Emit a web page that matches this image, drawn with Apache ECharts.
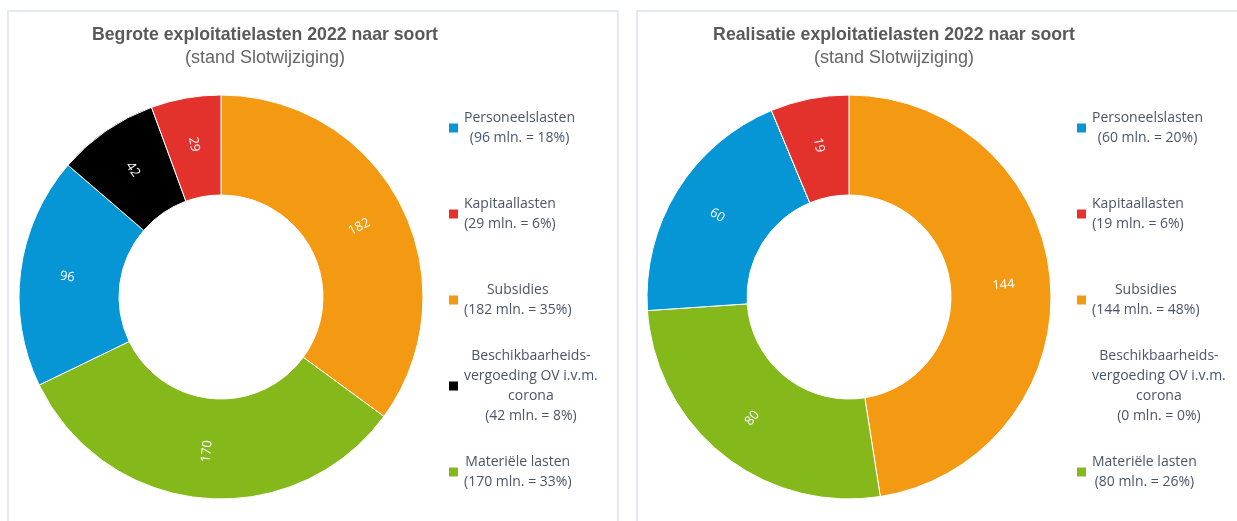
<!DOCTYPE html>
<html>
<head>
<meta charset="utf-8">
<title>Exploitatielasten 2022 naar soort</title>
<script src="https://cdn.jsdelivr.net/npm/echarts@6/dist/echarts.min.js"></script>
<style>
  html, body { margin: 0; padding: 0; background: #fff; }
  #ec { width: 1237px; height: 521px; }
</style>
</head>
<body>
<div id="ec"></div>
<script>
// volgorde van de ringen (met de klok mee vanaf boven)
var categories = ['Subsidies', 'Materiële lasten', 'Personeelslasten', 'Beschikbaarheidsvergoeding OV i.v.m. corona', 'Kapitaallasten'];
// begroot (stand Slotwijziging), mln.
var begroot = [182, 170, 96, 42, 29];
// realisatie, mln.
var realisatie = [144, 80, 60, 0, 19];

// volgorde in de legenda
var legendOrder = ['Personeelslasten', 'Kapitaallasten', 'Subsidies', 'Beschikbaarheidsvergoeding OV i.v.m. corona', 'Materiële lasten'];
// hoe de namen in de legenda worden afgebroken
var legendLines = {
  'Beschikbaarheidsvergoeding OV i.v.m. corona': ['Beschikbaarheids-', 'vergoeding OV i.v.m.', 'corona']
};

var titles = ['Begrote exploitatielasten 2022 naar soort', 'Realisatie exploitatielasten 2022 naar soort'];
var subTitle = '(stand Slotwijziging)';

// kleuren per soort
var colorMap = {
  'Subsidies': '#f39a12',
  'Materiële lasten': '#84b81b',
  'Personeelslasten': '#0796d5',
  'Beschikbaarheidsvergoeding OV i.v.m. corona': '#000000',
  'Kapitaallasten': '#e3312c'
};

var ec = echarts.init(document.getElementById('ec'));

function sum(arr) {
  var s = 0;
  arr.forEach(function(v) { s += v; });
  return s;
}

function pieData(values) {
  return categories.map(function(name, i) {
    return { name: name, value: values[i], itemStyle: { color: colorMap[name] } };
  });
}

// legenda: elk item 4 regels hoog zodat de middens gelijk verdeeld zijn
function makeLegend(values, left, hideZero) {
  var total = sum(values);
  var lookup = {};
  categories.forEach(function(n, i) { lookup[n] = values[i]; });

  return {
    orient: 'vertical',
    left: left,
    top: 88,
    padding: 0,
    itemGap: 6,
    itemWidth: 11,
    itemHeight: 11,
    icon: 'rect',
    selectedMode: false,
    data: legendOrder.map(function(n) {
      var d = { name: n };
      if (hideZero && lookup[n] === 0) {
        d.itemStyle = { opacity: 0 };
      }
      return d;
    }),
    formatter: function(name) {
      var v = lookup[name];
      var pct = Math.round(v / total * 100);
      var lines = (legendLines[name] || [name]).slice();
      lines.push('(' + v + ' mln. = ' + pct + '%)');
      var out = lines.map(function(l) { return '{a|' + l + '}'; });
      while (out.length < 4) {
        out.unshift('{e| }');
        if (out.length < 4) out.push('{e| }');
      }
      return out.join('\n');
    },
    textStyle: {
      fontFamily: 'Open Sans',
      fontSize: 14,
      color: '#4a5568',
      lineHeight: 20,
      rich: {
        a: { align: 'center', fontFamily: 'Open Sans', fontSize: 14, color: '#4a5568', lineHeight: 20 },
        e: { lineHeight: 20, fontSize: 14 }
      }
    }
  };
}

function makeTitle(text, center) {
  return {
    text: text,
    subtext: subTitle,
    left: center,
    top: 25,
    textAlign: 'center',
    padding: 0,
    itemGap: 3,
    textStyle: {
      fontFamily: 'Liberation Sans',
      fontWeight: 'bold',
      fontSize: 17.7,
      lineHeight: 20,
      color: '#595959'
    },
    subtextStyle: {
      fontFamily: 'Liberation Sans',
      fontSize: 18,
      lineHeight: 20,
      color: '#666666'
    }
  };
}

function makePie(values, cx) {
  return {
    type: 'pie',
    center: [cx, 297],
    radius: [102, 202],
    startAngle: 90,
    clockwise: true,
    avoidLabelOverlap: false,
    stillShowZeroSum: true,
    emphasis: { disabled: true },
    itemStyle: { borderColor: '#ffffff', borderWidth: 1 },
    label: {
      show: true,
      position: 'inside',
      rotate: 'radial',
      color: '#ffffff',
      fontFamily: 'Open Sans',
      fontSize: 13,
      formatter: function(p) {
        return p.value === 0 ? '' : String(p.value);
      }
    },
    labelLine: { show: false },
    data: pieData(values)
  };
}

var option = {
  backgroundColor: '#ffffff',
  animation: false,
  graphic: [
    // panelranden
    { type: 'rect', shape: { x: 8, y: 11, width: 610, height: 530 }, style: { fill: 'none', stroke: '#e6e9f0', lineWidth: 2 }, silent: true, z: -1 },
    { type: 'rect', shape: { x: 637, y: 11, width: 640, height: 530 }, style: { fill: 'none', stroke: '#e6e9f0', lineWidth: 2 }, silent: true, z: -1 }
  ],
  title: [
    makeTitle(titles[0], 265),
    makeTitle(titles[1], 894)
  ],
  legend: [
    makeLegend(begroot, 447, false),
    makeLegend(realisatie, 1075, true)
  ],
  series: [
    makePie(begroot, 221),
    makePie(realisatie, 849)
  ]
};

ec.setOption(option);
</script>
</body>
</html>
